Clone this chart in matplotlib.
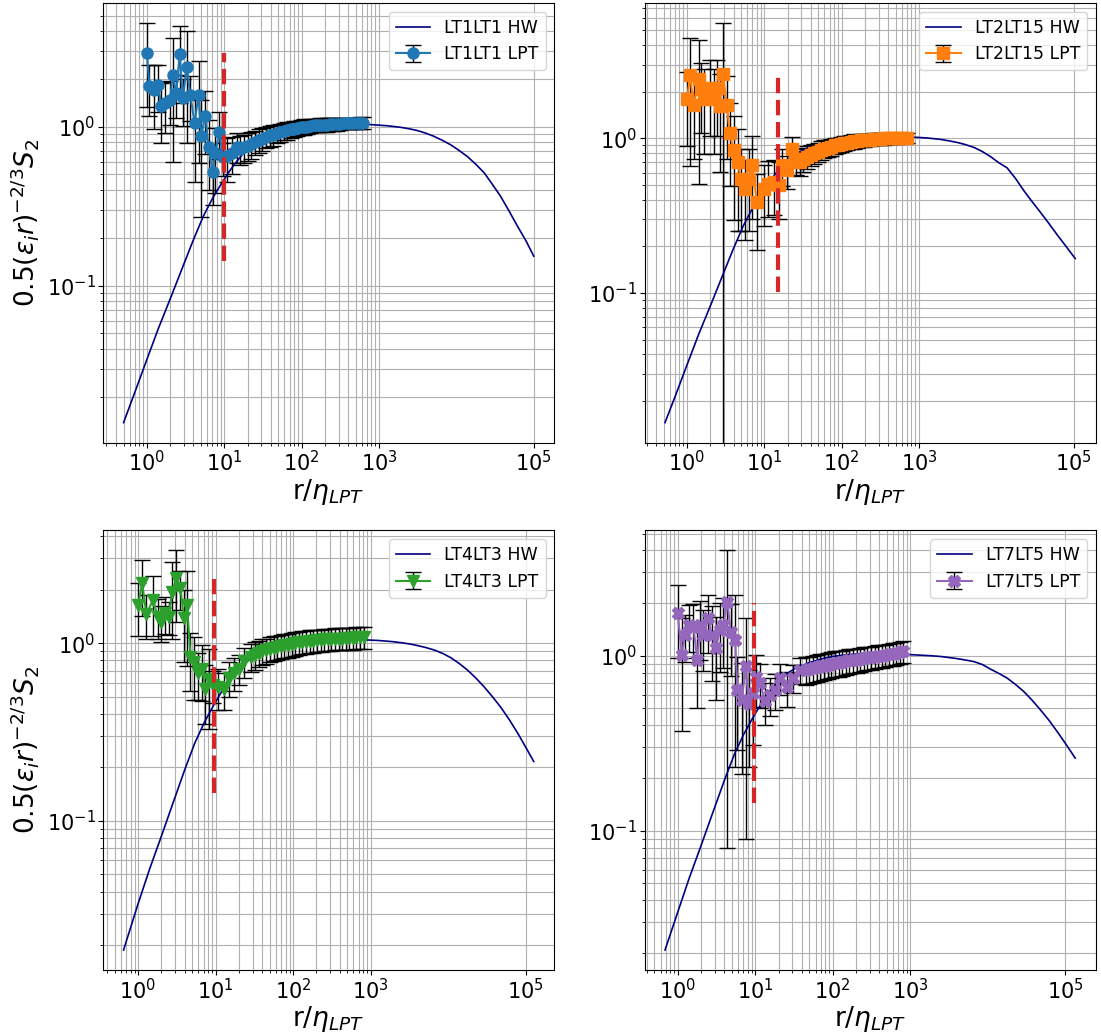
import numpy as np
import matplotlib.pyplot as plt
from matplotlib.ticker import NullFormatter

names = ['LT1LT1', 'LT2LT15', 'LT4LT3', 'LT7LT5']
colors = ['C0', 'C1', 'C2', 'C4']
markers = ['o', 's', 'v', 'X']

# HW model curves, r / eta_LPT
hw_r1 = [0.5, 0.71, 1.0, 1.41, 2.0, 2.82, 3.98, 5.37, 7.08, 9.33, 11.7, 14.5, 18.6, 24.0, 33.1,
         47.9, 70.8, 105, 178, 347, 794, 1259, 1900, 2512, 3160, 3981, 5130, 6607, 8510, 10720,
         13800, 17780, 22900, 28840, 37200, 47860, 61700, 79430, 100000]
hw_y1 = [0.0137, 0.0217, 0.0342, 0.0537, 0.0822, 0.126, 0.193, 0.273, 0.355, 0.443, 0.525, 0.605,
         0.700, 0.776, 0.851, 0.908, 0.959, 0.995, 1.026, 1.045, 1.030, 1.014, 0.991, 0.968, 0.944,
         0.912, 0.869, 0.820, 0.767, 0.711, 0.650, 0.581, 0.512, 0.437, 0.365, 0.295, 0.236, 0.191,
         0.153]
hw_r2 = [0.52, 0.71, 1.0, 1.41, 2.0, 2.82, 3.98, 5.37, 7.08, 9.33, 11.7, 14.5, 18.6, 24.0, 33.1,
         47.9, 70.8, 105, 178, 347, 794, 1259, 1900, 2512, 3160, 3981, 5130, 6607, 8510, 10720,
         13800, 17780, 22900, 28840, 37200, 47860, 61700, 79430, 105000]
hw_y2 = [0.0145, 0.0217, 0.0342, 0.0537, 0.0822, 0.126, 0.193, 0.273, 0.355, 0.443, 0.525, 0.605,
         0.700, 0.776, 0.851, 0.908, 0.959, 0.995, 1.02, 1.03, 1.02, 1.007, 0.985, 0.962, 0.94,
         0.912, 0.875, 0.822, 0.76, 0.697, 0.645, 0.55, 0.457, 0.392, 0.333, 0.282, 0.237, 0.201,
         0.167]
hw_r3 = [0.65, 1.0, 1.41, 2.0, 2.82, 3.98, 5.37, 7.08, 9.33, 11.7, 14.5, 18.6, 24.0, 33.1, 47.9,
         70.8, 105, 178, 347, 794, 1259, 1900, 2512, 3160, 3981, 5130, 6607, 8510, 10720, 13800,
         17780, 22900, 28840, 37200, 47860, 61700, 79430, 100000, 127000]
hw_y3 = [0.0188, 0.0342, 0.0537, 0.0822, 0.126, 0.193, 0.273, 0.355, 0.443, 0.525, 0.605, 0.700,
         0.776, 0.851, 0.908, 0.962, 1.0, 1.035, 1.05, 1.045, 1.035, 1.02, 1.005, 0.99, 0.97,
         0.945, 0.915, 0.875, 0.83, 0.77, 0.705, 0.635, 0.57, 0.50, 0.435, 0.37, 0.31, 0.26, 0.216]
hw_r4 = [0.686, 1.0, 1.41, 2.0, 2.82, 3.98, 5.37, 7.08, 9.33, 11.7, 14.5, 18.6, 24.0, 33.1, 47.9,
         70.8, 105, 178, 347, 794, 1259, 1900, 2512, 3160, 3981, 5130, 6607, 8510, 10720, 13800,
         17780, 22900, 28840, 37200, 47860, 61700, 79430, 100000, 134000]
hw_y4 = [0.0208, 0.0342, 0.0537, 0.0822, 0.126, 0.193, 0.273, 0.355, 0.443, 0.525, 0.605, 0.700,
         0.776, 0.851, 0.908, 0.959, 0.995, 1.02, 1.03, 1.02, 1.01, 1.0, 0.99, 0.977, 0.964, 0.946,
         0.927, 0.891, 0.841, 0.794, 0.745, 0.684, 0.627, 0.558, 0.49, 0.427, 0.366, 0.316, 0.26]

# LPT measurements: r / eta_LPT, 0.5 (eps r)^(-2/3) S2, error
r1 = [1.0, 1.08, 1.22, 1.41, 1.52, 1.73, 2.0, 2.15, 2.4, 2.65, 2.92, 3.29, 3.63, 4.14, 4.65, 5.04,
      5.68, 6.28, 7.06, 7.67, 8.6, 9.6, 10.8, 12.6, 14.6, 16, 18, 20, 22.5, 25, 28, 31, 35, 39, 43,
      48, 53, 59, 65, 72, 80, 88, 97, 107, 118, 130, 143, 158, 174, 192, 212, 234, 258, 285, 315,
      348, 384, 424, 468, 517, 570, 630]
s1 = [2.91, 1.81, 1.71, 1.84, 1.34, 1.41, 1.48, 2.12, 1.63, 2.86, 1.51, 2.39, 1.59, 1.05, 1.59,
      0.87, 1.17, 0.75, 0.52, 0.68, 0.93, 0.64, 0.65, 0.68, 0.75, 0.72, 0.74, 0.76, 0.78, 0.80,
      0.82, 0.84, 0.86, 0.88, 0.89, 0.91, 0.92, 0.94, 0.95, 0.96, 0.97, 0.98, 0.99, 1.0, 1.0, 1.01,
      1.02, 1.02, 1.03, 1.03, 1.03, 1.04, 1.04, 1.04, 1.04, 1.05, 1.05, 1.05, 1.05, 1.05, 1.06, 1.06]
e1 = [1.58, 0.64, 0.75, 0.6, 0.55, 0.5, 0.45, 1.52, 0.5, 1.46, 0.5, 1.6, 0.5, 0.6, 1.0, 0.6, 0.5,
      0.35, 0.2, 0.3, 0.3, 0.15, 0.2, 0.18, 0.16, 0.15, 0.15, 0.15, 0.15, 0.14, 0.14, 0.14, 0.13,
      0.13, 0.13, 0.12, 0.12, 0.12, 0.12, 0.11, 0.11, 0.11, 0.11, 0.11, 0.10, 0.10, 0.10, 0.10,
      0.10, 0.10, 0.10, 0.10, 0.10, 0.10, 0.09, 0.09, 0.09, 0.09, 0.09, 0.09, 0.09, 0.09]

r2 = [1.0, 1.1, 1.22, 1.42, 1.52, 1.68, 2.0, 2.21, 2.44, 2.64, 2.92, 3.29, 3.56, 4.01, 4.52, 4.99,
      5.68, 6.3, 6.93, 8.0, 9.8, 11.3, 13.2, 15.3, 16.9, 19.5, 22.8, 26, 29, 32, 36, 40, 44, 49, 54,
      60, 66, 73, 81, 89, 98, 108, 119, 131, 145, 160, 176, 194, 214, 236, 260, 287, 316, 349, 385,
      424, 468, 516, 569, 628, 693]
s2 = [1.79, 2.56, 1.64, 2.41, 2.08, 1.79, 2.13, 1.79, 2.13, 1.61, 2.6, 1.64, 1.09, 0.845, 0.70,
      0.55, 0.47, 0.55, 0.67, 0.39, 0.47, 0.51, 0.52, 0.50, 0.67, 0.62, 0.85, 0.72, 0.70, 0.74,
      0.76, 0.78, 0.80, 0.82, 0.84, 0.86, 0.87, 0.88, 0.90, 0.91, 0.92, 0.93, 0.94, 0.95, 0.96,
      0.96, 0.97, 0.97, 0.98, 0.98, 0.99, 0.99, 0.99, 1.0, 1.0, 1.0, 1.0, 1.0, 1.01, 1.01, 1.01]
e2 = [0.9, 1.9, 0.9, 1.9, 1.0, 1.0, 1.1, 1.0, 1.1, 1.0, 2.97, 0.9, 0.6, 0.55, 0.45, 0.3, 0.25,
      0.3, 0.37, 0.2, 0.2, 0.2, 0.2, 0.2, 0.18, 0.15, 0.17, 0.14, 0.13, 0.13, 0.13, 0.12, 0.12,
      0.12, 0.12, 0.11, 0.11, 0.11, 0.11, 0.10, 0.10, 0.10, 0.10, 0.10, 0.10, 0.09, 0.09, 0.09,
      0.09, 0.09, 0.09, 0.09, 0.09, 0.09, 0.08, 0.08, 0.08, 0.08, 0.08, 0.08, 0.08]

r3 = [1.0, 1.13, 1.28, 1.56, 1.79, 1.98, 2.25, 2.49, 2.75, 3.12, 3.52, 3.89, 4.29, 4.74, 5.33,
      5.95, 6.7, 7.4, 8.17, 9.3, 10.9, 12.7, 14.8, 17.1, 19.9, 23.1, 28.2, 32, 36, 40, 45, 50, 56,
      62, 69, 77, 86, 96, 107, 119, 132, 147, 164, 182, 203, 226, 251, 280, 311, 346, 385, 428,
      476, 530, 590, 656, 730, 812]
s3 = [1.64, 2.17, 1.46, 1.75, 1.41, 1.32, 1.47, 1.41, 1.95, 2.32, 2.04, 1.38, 1.64, 0.84, 0.78,
      0.68, 0.72, 0.55, 0.63, 0.58, 0.57, 0.55, 0.64, 0.68, 0.72, 0.79, 0.84, 0.86, 0.88, 0.90,
      0.91, 0.93, 0.94, 0.95, 0.96, 0.97, 0.98, 0.99, 1.0, 1.01, 1.02, 1.02, 1.03, 1.03, 1.04,
      1.04, 1.05, 1.05, 1.05, 1.06, 1.06, 1.06, 1.07, 1.07, 1.07, 1.08, 1.08, 1.08]
e3 = [0.55, 0.75, 0.4, 0.65, 0.35, 0.3, 0.35, 0.3, 0.9, 1.0, 0.5, 0.6, 0.9, 0.3, 0.3, 0.2, 0.25,
      0.2, 0.3, 0.12, 0.15, 0.13, 0.14, 0.14, 0.14, 0.15, 0.15, 0.15, 0.15, 0.15, 0.15, 0.15,
      0.15, 0.15, 0.15, 0.15, 0.15, 0.15, 0.15, 0.15, 0.15, 0.15, 0.15, 0.15, 0.15, 0.15, 0.15,
      0.15, 0.15, 0.15, 0.15, 0.15, 0.15, 0.15, 0.15, 0.15, 0.15, 0.15]

r4 = [1.0, 1.13, 1.24, 1.41, 1.59, 1.79, 1.94, 2.14, 2.49, 2.74, 3.12, 3.52, 3.89, 4.37, 4.83,
      5.5, 5.9, 6.7, 7.6, 8.2, 9.45, 10.2, 11.5, 13.4, 15.5, 18, 20.9, 25.5, 31, 38, 45, 50, 56,
      62, 69, 77, 86, 96, 107, 119, 132, 147, 164, 182, 203, 226, 251, 280, 311, 346, 385, 428,
      476, 530, 590, 656, 730, 812]
s4 = [1.75, 1.01, 1.32, 1.5, 1.47, 0.95, 1.5, 1.32, 1.64, 1.32, 1.11, 1.41, 1.5, 2.04, 1.37, 1.23,
      0.64, 0.56, 0.87, 0.53, 0.61, 0.76, 0.70, 0.55, 0.60, 0.64, 0.75, 0.66, 0.75, 0.83, 0.83,
      0.84, 0.85, 0.86, 0.87, 0.88, 0.89, 0.90, 0.91, 0.91, 0.92, 0.93, 0.94, 0.95, 0.95, 0.96,
      0.97, 0.98, 0.98, 0.99, 1.0, 1.0, 1.01, 1.02, 1.03, 1.04, 1.05, 1.06]
e4 = [0.78, 0.64, 0.4, 0.45, 0.5, 0.45, 0.55, 0.5, 0.6, 0.6, 0.55, 0.6, 0.65, 1.96, 0.6, 1.0,
      0.35, 0.35, 0.78, 0.3, 0.3, 0.25, 0.2, 0.15, 0.15, 0.15, 0.15, 0.15, 0.14, 0.14, 0.15, 0.15,
      0.15, 0.15, 0.15, 0.15, 0.15, 0.15, 0.15, 0.15, 0.15, 0.15, 0.15, 0.15, 0.15, 0.15, 0.15,
      0.15, 0.15, 0.15, 0.15, 0.15, 0.15, 0.15, 0.15, 0.15, 0.15, 0.15]

# red dashed markers
vline_x = [10, 15, 9.5, 9.7]
vline_lo = [0.142, 0.101, 0.143, 0.144]
vline_hi = [2.9, 2.6, 2.29, 2.0]

hw_r = [hw_r1, hw_r2, hw_r3, hw_r4]
hw_y = [hw_y1, hw_y2, hw_y3, hw_y4]
lpt_r = [r1, r2, r3, r4]
lpt_s = [s1, s2, s3, s4]
lpt_e = [e1, e2, e3, e4]

fig, axes = plt.subplots(2, 2, figsize=(11.01, 10.34), dpi=100)
fig.subplots_adjust(left=0.0936, right=0.9952, bottom=0.0619, top=0.997, wspace=0.2, hspace=0.2)

minor_x = [k * 10.0 ** d for d in (-1, 0, 1, 2) for k in range(2, 10)]

for i, ax in enumerate(axes.flat):
    ax.set_xscale('log')
    ax.set_yscale('log')
    ax.errorbar(lpt_r[i], lpt_s[i], yerr=lpt_e[i], fmt=markers[i] + '-', color=colors[i],
                ecolor='k', elinewidth=1, capsize=6, markersize=8, label=names[i] + ' LPT')
    ax.plot(hw_r[i], hw_y[i], color='navy', lw=1.2, label=names[i] + ' HW')
    ax.vlines(vline_x[i], vline_lo[i], vline_hi[i], colors='tab:red', linestyles='--',
              linewidth=3, zorder=4)
    xl = ax.get_xlim()
    ax.set_xticks([1, 10, 100, 1000, 1e5])
    ax.set_xticks(minor_x, minor=True)
    ax.set_xlim(xl)
    ax.xaxis.set_minor_formatter(NullFormatter())
    ax.tick_params(labelsize=15, pad=2)
    ax.grid(True, which='both')
    ax.set_xlabel(r'r/$\eta_{LPT}$', fontsize=19, labelpad=1)
    if i % 2 == 0:
        ax.set_ylabel(r'$0.5(\epsilon_i r)^{-2/3}S_2$', fontsize=19)
    ax.legend(loc='upper right', fontsize=12.5)

fig.savefig('out.png', dpi=100)
